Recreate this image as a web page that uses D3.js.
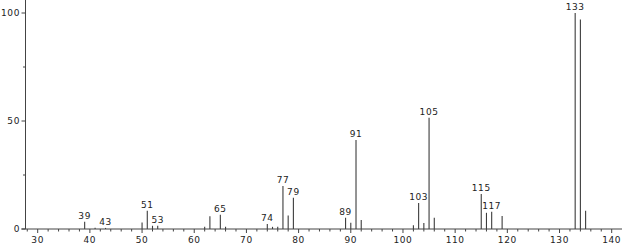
<!DOCTYPE html>
<html><head><meta charset="utf-8">
<script src="https://cdn.jsdelivr.net/npm/d3@7"></script>
<style>
html,body{margin:0;padding:0;background:#fff;}
svg{display:block;}
text{font-family:"DejaVu Sans",sans-serif;font-size:9px;fill:#222;letter-spacing:0.6px;}
</style></head><body>
<svg id="chart" width="625" height="246"></svg>
<script>
// m/z values and relative intensities
const mz =        [39, 41, 43, 50, 51, 52, 53, 62, 63, 65, 66, 74, 75, 76, 77, 78, 79, 89, 90, 91, 92, 102, 103, 104, 105, 106, 115, 116, 117, 119, 133, 134, 135];
const intensity = [3.4,0.6,0.5,3.0,8.5,1.5,1.5,1.0,5.9,6.6,1.0,2.3,1.0,1.0,19.9,6.2,14.5,5.2,2.9,41.2,4.2,1.7, 12.0,2.8, 51.5,5.2, 16.2,7.5, 8.0, 6.0, 100, 97, 8.5];
const labelledPeaks = [39, 43, 51, 53, 65, 74, 77, 79, 89, 91, 103, 105, 115, 117, 133];
const xTickValues = [30, 40, 50, 60, 70, 80, 90, 100, 110, 120, 130, 140];
const yTickValues = [0, 50, 100];

const svg = d3.select("#chart");
const x = d3.scaleLinear().domain([30, 140]).range([37.7, 611.7]);
const y = d3.scaleLinear().domain([0, 100]).range([229, 13]);

// bars
const data = mz.map((m, i) => ({m, v: intensity[i]}));
svg.append("g").selectAll("line").data(data).join("line")
  .attr("x1", d => x(d.m)).attr("x2", d => x(d.m))
  .attr("y1", y(0)).attr("y2", d => y(d.v))
  .attr("stroke", "#3c3c3c").attr("stroke-width", 1.1);

// x axis
const gx = svg.append("g").attr("transform", `translate(0,${y(0)})`);
gx.append("line").attr("x1", 21.5).attr("x2", 622).attr("stroke", "#444").attr("stroke-width", 1);
const minor = d3.range(28, 142, 2).filter(v => v % 10 !== 0);
gx.selectAll("line.mi").data(minor).join("line").attr("class","mi")
  .attr("x1", d => x(d)).attr("x2", d => x(d)).attr("y1", 0).attr("y2", 2.5)
  .attr("stroke", "#444");
gx.selectAll("line.ma").data(xTickValues).join("line").attr("class","ma")
  .attr("x1", d => x(d)).attr("x2", d => x(d)).attr("y1", 0).attr("y2", 4)
  .attr("stroke", "#444");
gx.selectAll("text").data(xTickValues).join("text")
  .attr("x", d => x(d)).attr("y", 14).attr("text-anchor", "middle")
  .text(d => d);

// y axis
const gy = svg.append("g").attr("transform", "translate(25.5,0)");
gy.append("line").attr("y1", 0).attr("y2", y(0)).attr("stroke", "#444");
gy.selectAll("line.mi").data([25, 75]).join("line").attr("class","mi")
  .attr("x1", -2.5).attr("x2", 0).attr("y1", d => y(d)).attr("y2", d => y(d)).attr("stroke", "#444");
gy.selectAll("line.ma").data(yTickValues).join("line").attr("class","ma")
  .attr("x1", -4).attr("x2", 0).attr("y1", d => y(d)).attr("y2", d => y(d)).attr("stroke", "#444");
gy.selectAll("text").data(yTickValues).join("text")
  .attr("x", -5.5).attr("y", d => y(d) + 3).attr("text-anchor", "end")
  .text(d => d);

// peak labels
const lab = data.filter(d => labelledPeaks.includes(d.m));
svg.append("g").selectAll("text").data(lab).join("text")
  .attr("x", d => x(d.m)).attr("y", d => y(d.v) - 3).attr("text-anchor", "middle")
  .text(d => d.m);
</script>
</body></html>
